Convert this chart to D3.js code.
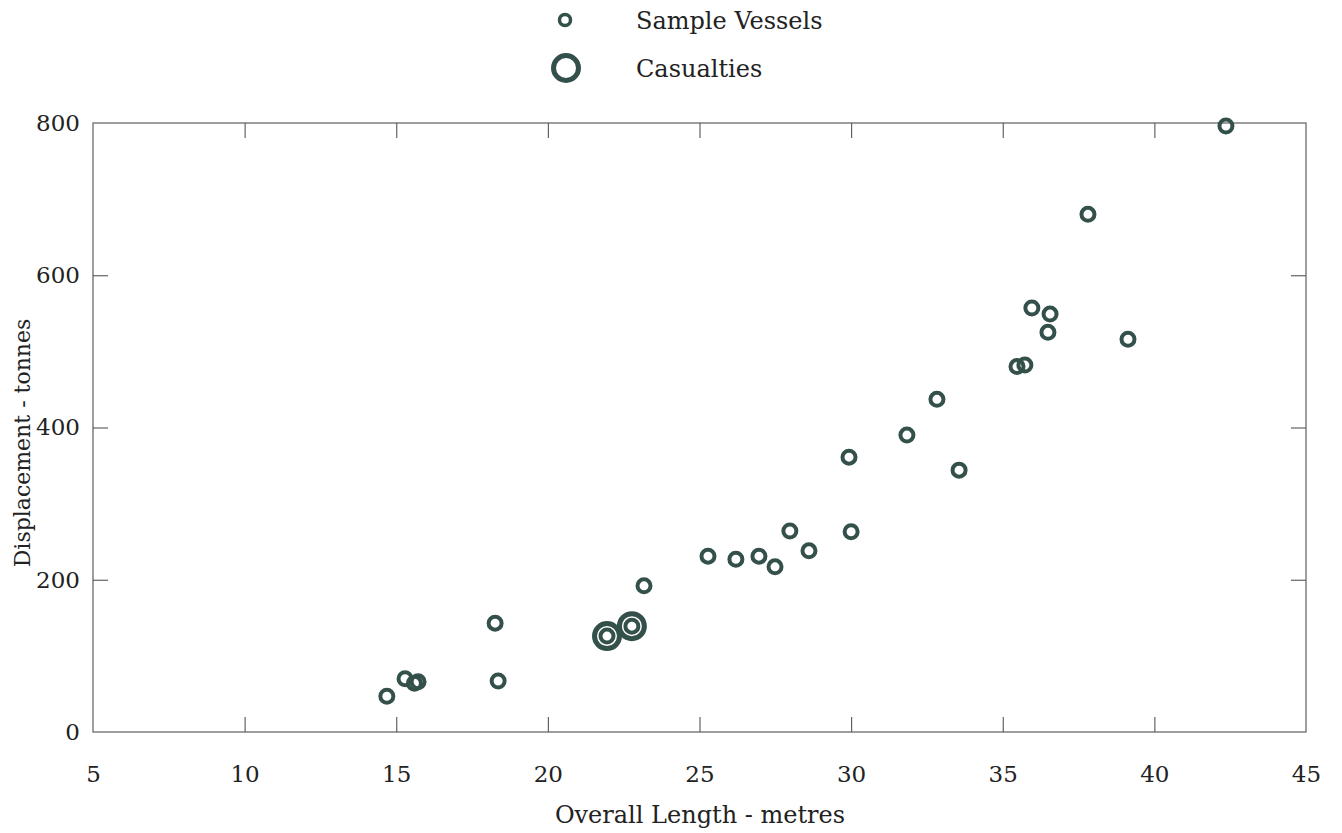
<!DOCTYPE html>
<html lang="en">
<head>
<meta charset="UTF-8">
<title>Displacement vs Overall Length</title>
<script src="https://d3js.org/d3.v7.min.js"></script>
<style>
  body { margin: 0; background: #fff; }
  svg text { font-family: "DejaVu Serif", "Liberation Serif", serif; fill: #222; }
</style>
</head>
<body>
<div id="chart"></div>
<script>
// sample vessels: overall length (m) and displacement (t)
const sampleLength = [42.36, 37.81, 35.96, 36.56, 36.49, 39.13, 35.47, 35.73, 32.83, 31.84,
                      33.56, 29.93, 30.0, 27.98, 28.61, 25.28, 26.20, 26.96, 27.49, 23.17,
                      22.77, 21.95, 18.26, 18.36, 14.69, 15.29, 15.6, 15.72];
const sampleDisp   = [796, 680, 557, 549, 525, 516, 480, 482, 437, 390,
                      344, 361, 263, 264, 238, 231, 227, 231, 217, 192,
                      139, 126, 143, 67, 47, 70, 64, 66];
// casualties
const casualtyLength = [21.95, 22.77];
const casualtyDisp   = [126, 139];

const xTicks = [5, 10, 15, 20, 25, 30, 35, 40, 45];
const yTicks = [0, 200, 400, 600, 800];

const width = 1342, height = 833;
const margin = {top: 123, right: 36, bottom: 101, left: 93};

const svg = d3.select("#chart").append("svg")
    .attr("width", width).attr("height", height);

const x = d3.scaleLinear().domain([5, 45]).range([margin.left, width - margin.right]);
const y = d3.scaleLinear().domain([0, 800]).range([height - margin.bottom, margin.top]);

const ink = "#34504b";
const tickLen = 15;
const serif = "DejaVu Serif, Liberation Serif, serif";

// frame
svg.append("rect")
    .attr("x", x(5)).attr("y", y(800))
    .attr("width", x(45) - x(5)).attr("height", y(0) - y(800))
    .attr("fill", "none").attr("stroke", "#6a6a6a").attr("stroke-width", 1.3);

// axes with inward ticks
const fmt = d3.format("d");
const gBottom = svg.append("g").attr("transform", `translate(0,${y(0)})`)
    .call(d3.axisBottom(x).tickValues(xTicks).tickFormat(fmt).tickSizeInner(-tickLen).tickSizeOuter(0).tickPadding(34));
const gTop = svg.append("g").attr("transform", `translate(0,${y(800)})`)
    .call(d3.axisTop(x).tickValues(xTicks).tickSizeInner(-tickLen).tickSizeOuter(0).tickFormat(""));
const gLeft = svg.append("g").attr("transform", `translate(${x(5)},0)`)
    .call(d3.axisLeft(y).tickValues(yTicks).tickFormat(fmt).tickSizeInner(-tickLen).tickSizeOuter(0).tickPadding(13));
const gRight = svg.append("g").attr("transform", `translate(${x(45)},0)`)
    .call(d3.axisRight(y).tickValues(yTicks).tickSizeInner(-tickLen).tickSizeOuter(0).tickFormat(""));

[gBottom, gTop, gLeft, gRight].forEach(g => {
    g.select(".domain").remove();
    g.selectAll(".tick line").attr("stroke", "#555").attr("stroke-width", 1.1);
    g.selectAll(".tick text")
        .attr("font-family", serif)
        .attr("font-size", 23).attr("fill", "#222");
});
// drop end ticks that would sit on the frame corners
[gBottom, gTop].forEach(g => g.selectAll(".tick line").filter(d => d === 5 || d === 45).remove());
[gLeft, gRight].forEach(g => g.selectAll(".tick line").filter(d => d === 0 || d === 800).remove());

// axis titles
svg.append("text")
    .attr("x", 700).attr("y", 823)
    .attr("text-anchor", "middle").attr("font-size", 24)
    .text("Overall Length - metres");
svg.append("text")
    .attr("transform", `translate(30,443) rotate(-90)`)
    .attr("text-anchor", "middle").attr("font-size", 22)
    .text("Displacement - tonnes");

// casualties: large rings
const casualties = casualtyLength.map((d, i) => ({len: d, disp: casualtyDisp[i]}));
svg.append("g").selectAll("circle").data(casualties).join("circle")
    .attr("cx", d => x(d.len)).attr("cy", d => y(d.disp))
    .attr("r", 12.5).attr("fill", "none")
    .attr("stroke", ink).attr("stroke-width", 5);

// sample vessels: small rings
const samples = sampleLength.map((d, i) => ({len: d, disp: sampleDisp[i]}));
svg.append("g").selectAll("circle").data(samples).join("circle")
    .attr("cx", d => x(d.len)).attr("cy", d => y(d.disp))
    .attr("r", 6.5).attr("fill", "none")
    .attr("stroke", ink).attr("stroke-width", 4);

// legend
const legend = svg.append("g");
legend.append("circle").attr("cx", 565).attr("cy", 20).attr("r", 5.5)
    .attr("fill", "none").attr("stroke", ink).attr("stroke-width", 3.5);
legend.append("text").attr("x", 636).attr("y", 29).attr("font-size", 24).text("Sample Vessels");
legend.append("circle").attr("cx", 566).attr("cy", 68).attr("r", 12.5)
    .attr("fill", "none").attr("stroke", ink).attr("stroke-width", 5);
legend.append("text").attr("x", 636).attr("y", 77).attr("font-size", 24).text("Casualties");
</script>
</body>
</html>
